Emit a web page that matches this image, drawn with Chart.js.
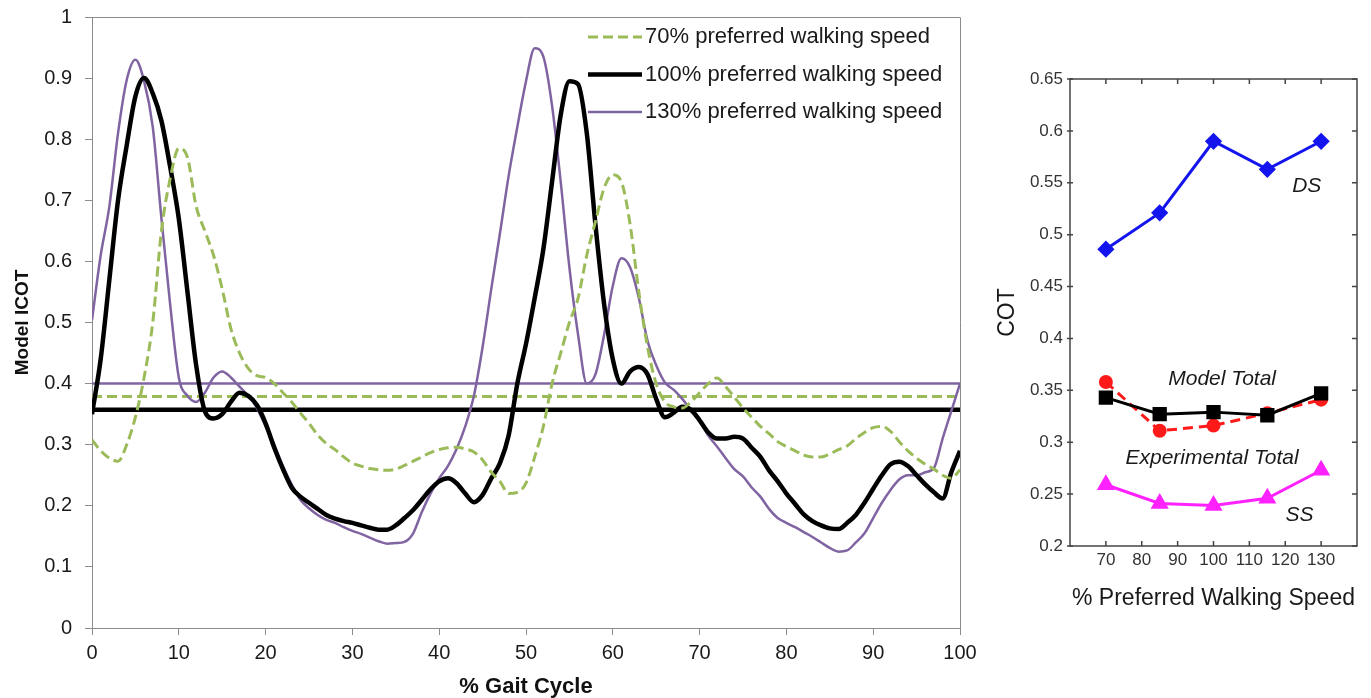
<!DOCTYPE html>
<html lang="en">

<head>
  <meta charset="UTF-8" />
  <title>Model ICOT over the gait cycle and COT by walking speed</title>
  <script src="https://cdn.jsdelivr.net/npm/chart.js"></script>
  <style>
    body { margin: 0; background: #fff; }
    #icotChart { position: absolute; left: 0; top: 0; }
    #cotChart { position: absolute; left: 990px; top: 0; }
  </style>
</head>

<body>
  <canvas id="icotChart" width="980" height="698"></canvas>
  <canvas id="cotChart" width="381" height="698"></canvas>

  <script>
    // ---- left chart: instantaneous COT over the gait cycle ----
    const gaitPct = [0, 1, 2, 3, 4, 5, 6, 7, 8, 9, 10, 11, 12, 13, 14, 15, 16, 17, 18, 19, 20,
      21, 22, 23, 24, 25, 26, 27, 28, 29, 30, 31, 32, 33, 34, 35, 36, 37, 38, 39, 40,
      41, 42, 43, 44, 45, 46, 47, 48, 49, 50, 51, 52, 53, 54, 55, 56, 57, 58, 59, 60,
      61, 62, 63, 64, 65, 66, 67, 68, 69, 70, 71, 72, 73, 74, 75, 76, 77, 78, 79, 80,
      81, 82, 83, 84, 85, 86, 87, 88, 89, 90, 91, 92, 93, 94, 95, 96, 97, 98, 99, 100];

    const icot70 = [0.308, 0.29, 0.278, 0.273, 0.30, 0.345, 0.41, 0.50, 0.65, 0.735, 0.785,
      0.77, 0.69, 0.65, 0.61, 0.555, 0.49, 0.45, 0.425, 0.413, 0.41,
      0.40, 0.385, 0.37, 0.352, 0.335, 0.316, 0.302, 0.292, 0.28, 0.27,
      0.265, 0.261, 0.259, 0.258, 0.26, 0.266, 0.273, 0.28, 0.287, 0.292,
      0.295, 0.296, 0.293, 0.288, 0.275, 0.255, 0.24, 0.22, 0.222, 0.237,
      0.28, 0.33, 0.40, 0.45, 0.50, 0.54, 0.61, 0.665, 0.72, 0.742,
      0.73, 0.66, 0.55, 0.46, 0.40, 0.37, 0.362, 0.36, 0.37, 0.385,
      0.40, 0.409, 0.395, 0.378, 0.36, 0.345, 0.33, 0.318, 0.305, 0.297,
      0.29, 0.283, 0.28, 0.28, 0.285, 0.292, 0.298, 0.31, 0.32, 0.328,
      0.33, 0.322, 0.305, 0.29, 0.278, 0.268, 0.26, 0.25, 0.245, 0.259];

    const icot100 = [0.35, 0.44, 0.57, 0.70, 0.79, 0.87, 0.90, 0.875, 0.83, 0.755, 0.67,
      0.55, 0.43, 0.355, 0.343, 0.35, 0.37, 0.385, 0.38, 0.365, 0.335,
      0.295, 0.26, 0.23, 0.215, 0.205, 0.195, 0.185, 0.179, 0.175, 0.172,
      0.168, 0.164, 0.161, 0.161, 0.168, 0.18, 0.193, 0.21, 0.227, 0.24,
      0.245, 0.237, 0.22, 0.206, 0.218, 0.245, 0.27, 0.315, 0.40, 0.465,
      0.54, 0.62, 0.73, 0.84, 0.895, 0.89, 0.81, 0.66, 0.53, 0.44,
      0.40, 0.42, 0.427, 0.415, 0.375, 0.345, 0.352, 0.362, 0.357, 0.34,
      0.32, 0.31, 0.31, 0.313, 0.31, 0.295, 0.28, 0.258, 0.24, 0.22,
      0.203, 0.186, 0.175, 0.168, 0.163, 0.162, 0.172, 0.185, 0.205, 0.228,
      0.25, 0.268, 0.272, 0.265, 0.25, 0.235, 0.222, 0.212, 0.255, 0.29];

    const icot130 = [0.504, 0.61, 0.69, 0.81, 0.897, 0.93, 0.895, 0.82, 0.67, 0.53, 0.41,
      0.38, 0.37, 0.385, 0.41, 0.42, 0.41, 0.395, 0.38, 0.36, 0.33,
      0.30, 0.265, 0.235, 0.21, 0.196, 0.185, 0.177, 0.172, 0.165, 0.159,
      0.154, 0.148, 0.142, 0.138, 0.139, 0.141, 0.155, 0.19, 0.22, 0.245,
      0.265, 0.293, 0.33, 0.38, 0.46, 0.555, 0.646, 0.74, 0.82, 0.895,
      0.949, 0.935, 0.855, 0.73, 0.59, 0.48, 0.40, 0.415, 0.48, 0.56,
      0.605, 0.59, 0.54, 0.47, 0.43, 0.402, 0.39, 0.375, 0.357, 0.34,
      0.315, 0.297, 0.278, 0.26, 0.248, 0.23, 0.215, 0.195, 0.18, 0.172,
      0.165, 0.157, 0.149, 0.14, 0.131, 0.125, 0.127, 0.14, 0.155, 0.18,
      0.205, 0.226, 0.243, 0.25, 0.25, 0.255, 0.262, 0.31, 0.355, 0.40];

    // cycle means, same order as the speeds
    const speedLabels = ["70% preferred walking speed", "100% preferred walking speed", "130% preferred walking speed"];
    const meanICOT = [0.379, 0.357, 0.40];
    const speedColors = ["#9bbb59", "#000000", "#8064a2"];

    // ---- right chart: COT by walking speed ----
    const walkSpeed = [70, 85, 100, 115, 130];
    const cotDS = [0.486, 0.521, 0.590, 0.563, 0.590];
    const cotModelTotal = [0.343, 0.327, 0.329, 0.326, 0.347];
    const cotExpTotal = [0.358, 0.311, 0.316, 0.328, 0.341];
    const cotSS = [0.259, 0.241, 0.239, 0.246, 0.273];

    const toXY = (xs, ys) => xs.map((x, i) => ({ x, y: ys[i] }));
    const flatLine = v => [{ x: 0, y: v }, { x: 100, y: v }];

    const FONT = '"Liberation Sans", Arial, sans-serif';

    // no extra room for overhanging end labels, the layout padding handles it
    const noScalePad = s => { s.paddingTop = 0; s.paddingBottom = 0; s.paddingLeft = 0; s.paddingRight = 0; };

    // gray frame on top/right + in-plot legend for the left chart
    const icotDecor = {
      id: "icotDecor",
      afterDraw(chart) {
        const { ctx, chartArea: a } = chart;
        ctx.save();
        ctx.strokeStyle = "#8c8c8c";
        ctx.lineWidth = 1;
        ctx.beginPath();
        ctx.moveTo(a.left, a.top + 0.5);
        ctx.lineTo(a.right + 0.5, a.top + 0.5);
        ctx.lineTo(a.right + 0.5, a.bottom);
        ctx.stroke();

        ctx.font = "22px " + FONT;
        ctx.textBaseline = "middle";
        for (let i = 0; i < 3; i++) {
          const ds = chart.data.datasets[i];
          const y = 37 + i * 37.5;
          ctx.strokeStyle = ds.borderColor;
          ctx.lineWidth = ds.borderWidth;
          ctx.setLineDash(ds.borderDash || []);
          ctx.beginPath();
          ctx.moveTo(588, y);
          ctx.lineTo(642, y);
          ctx.stroke();
          ctx.setLineDash([]);
          ctx.fillStyle = "#1a1a1a";
          ctx.fillText(ds.label, 645, y);
        }
        ctx.restore();
      }
    };

    const curveStyle = [
      { borderWidth: 3, borderDash: [10, 5] },
      { borderWidth: 4.5, borderDash: [] },
      { borderWidth: 2.5, borderDash: [] }
    ];
    const curves = [icot70, icot100, icot130];

    const icotDatasets = curves.map((vals, i) => ({
      label: speedLabels[i],
      data: toXY(gaitPct, vals),
      borderColor: speedColors[i],
      borderWidth: curveStyle[i].borderWidth,
      borderDash: curveStyle[i].borderDash,
      pointRadius: 0,
      cubicInterpolationMode: "monotone"
    })).concat(meanICOT.map((v, i) => ({
      label: "mean " + speedLabels[i],
      data: flatLine(v),
      borderColor: speedColors[i],
      borderWidth: curveStyle[i].borderWidth,
      borderDash: curveStyle[i].borderDash,
      pointRadius: 0
    })));

    new Chart(document.getElementById("icotChart"), {
      type: "line",
      data: { datasets: icotDatasets },
      options: {
        responsive: false,
        animation: false,
        layout: { padding: { top: 17, right: 20, left: 0, bottom: 0 } },
        plugins: { legend: { display: false }, tooltip: { enabled: false } },
        scales: {
          x: {
            type: "linear",
            min: 0,
            max: 100,
            afterFit: s => { s.height = 70; noScalePad(s); },
            border: { color: "#8c8c8c", width: 1 },
            grid: { drawOnChartArea: false, drawTicks: true, tickLength: 7, color: "#8c8c8c" },
            ticks: { stepSize: 10, padding: 6, color: "#1a1a1a", font: { size: 20, family: FONT } },
            title: {
              display: true,
              text: "% Gait Cycle",
              color: "#111",
              font: { size: 22, weight: "bold", family: FONT, lineHeight: 1 },
              padding: { top: 0, bottom: 0 }
            }
          },
          y: {
            min: 0,
            max: 1,
            afterFit: s => { s.width = 92; noScalePad(s); },
            border: { color: "#8c8c8c", width: 1 },
            grid: { drawOnChartArea: false, drawTicks: true, tickLength: 7, color: "#8c8c8c" },
            ticks: {
              stepSize: 0.1,
              padding: 13,
              color: "#1a1a1a",
              font: { size: 20, family: FONT },
              callback: v => String(+v.toFixed(2))
            },
            title: {
              display: true,
              text: "Model ICOT",
              color: "#111",
              font: { size: 19, weight: "bold", family: FONT, lineHeight: 1.2 },
              padding: { top: 11, bottom: 0 }
            }
          }
        }
      },
      plugins: [icotDecor]
    });

    // inward ticks, frame and series names for the right chart
    const cotDecor = {
      id: "cotDecor",
      afterDraw(chart) {
        const { ctx, chartArea: a, scales: { x, y } } = chart;
        ctx.save();
        ctx.strokeStyle = "#444";
        ctx.lineWidth = 1.5;
        ctx.strokeRect(a.left, a.top, a.right - a.left, a.bottom - a.top);
        ctx.beginPath();
        x.ticks.forEach(t => {
          if (t.value <= 60 || t.value >= 140) return;
          const px = x.getPixelForValue(t.value);
          ctx.moveTo(px, a.top); ctx.lineTo(px, a.top + 5);
          ctx.moveTo(px, a.bottom); ctx.lineTo(px, a.bottom - 5);
        });
        y.ticks.forEach(t => {
          const py = y.getPixelForValue(t.value);
          ctx.moveTo(a.right, py); ctx.lineTo(a.right - 5, py);
          ctx.moveTo(a.left - 3, py); ctx.lineTo(a.left + 3, py);
        });
        ctx.stroke();

        ctx.font = "italic 21px " + FONT;
        ctx.fillStyle = "#1a1a1a";
        ctx.textAlign = "center";
        ctx.textBaseline = "middle";
        const names = [["DS", 126, 0.547], ["Model Total", 102.4, 0.361], ["Experimental Total", 99.6, 0.285], ["SS", 124, 0.23]];
        names.forEach(([t, vx, vy]) => ctx.fillText(t, x.getPixelForValue(vx), y.getPixelForValue(vy)));
        ctx.restore();
      }
    };

    new Chart(document.getElementById("cotChart"), {
      type: "line",
      data: {
        datasets: [
          {
            label: "DS",
            data: toXY(walkSpeed, cotDS),
            borderColor: "#1414ee",
            backgroundColor: "#1414ee",
            borderWidth: 3,
            pointStyle: "rectRot",
            pointRadius: 6.5
          },
          {
            label: "Model Total",
            data: toXY(walkSpeed, cotModelTotal),
            borderColor: "#000",
            backgroundColor: "#000",
            borderWidth: 3,
            pointStyle: "rect",
            pointRadius: 8
          },
          {
            label: "Experimental Total",
            data: toXY(walkSpeed, cotExpTotal),
            borderColor: "#ff1a1a",
            backgroundColor: "#ff1a1a",
            borderWidth: 3,
            borderDash: [10, 6],
            pointStyle: "circle",
            pointRadius: 5.5
          },
          {
            label: "SS",
            data: toXY(walkSpeed, cotSS),
            borderColor: "#ff22ff",
            backgroundColor: "#ff22ff",
            borderWidth: 3,
            pointStyle: "triangle",
            pointRadius: 7.5
          }
        ]
      },
      options: {
        responsive: false,
        animation: false,
        layout: { padding: { top: 79, right: 14, left: 0, bottom: 0 } },
        plugins: { legend: { display: false }, tooltip: { enabled: false } },
        scales: {
          x: {
            type: "linear",
            min: 60,
            max: 140,
            afterFit: s => { s.height = 152; noScalePad(s); },
            border: { display: false },
            grid: { display: false, drawTicks: false, tickLength: 0 },
            ticks: {
              stepSize: 10,
              padding: 4,
              color: "#333",
              font: { size: 17, family: FONT },
              callback: v => (v <= 60 || v >= 140) ? "" : v
            },
            title: {
              display: true,
              text: "% Preferred Walking Speed",
              color: "#1a1a1a",
              font: { size: 23, family: FONT, lineHeight: 1.2 },
              padding: { top: 0, bottom: 86 }
            }
          },
          y: {
            min: 0.2,
            max: 0.65,
            afterFit: s => { s.width = 80; noScalePad(s); },
            border: { display: false },
            grid: { display: false, drawTicks: false, tickLength: 0 },
            ticks: {
              stepSize: 0.05,
              padding: 7,
              color: "#333",
              font: { size: 17, family: FONT },
              callback: v => String(+v.toFixed(2))
            },
            title: {
              display: true,
              text: "COT",
              color: "#1a1a1a",
              font: { size: 23, family: FONT, lineHeight: 1.2 },
              padding: { top: 4, bottom: 0 }
            }
          }
        }
      },
      plugins: [cotDecor]
    });
  </script>
</body>

</html>
